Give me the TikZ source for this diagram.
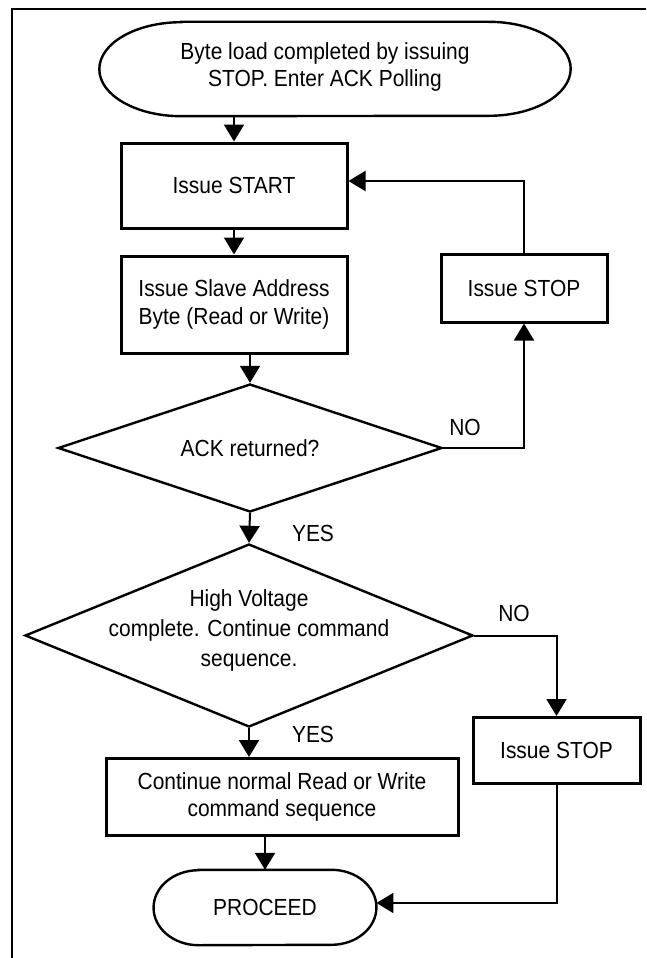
\documentclass[tikz,border=0pt]{standalone}
\usepackage{fontspec}
\setmainfont{Liberation Sans}[FakeStretch=0.9]
\usetikzlibrary{arrows.meta,shapes.geometric,calc}
\begin{document}
\begin{tikzpicture}[x=1pt,y=-1pt,
  txt/.style={font=\fontsize{23.3}{27.5}\selectfont, align=center, inner sep=0pt},
  boxnode/.style={draw, line width=3pt, rectangle, inner sep=0pt},
  termnode/.style={draw=none, rectangle, inner sep=0pt},
  dianode/.style={draw, line width=2.4pt, diamond, inner sep=0pt},
  termline/.style={line width=2.4pt},
  conn/.style={line width=2pt},
  arr/.style={conn, -{Triangle[length=17pt,width=20pt]}},
  lbl/.style={font=\fontsize{23.3}{27.5}\selectfont, inner sep=0pt},
  frameline/.style={line width=2pt}]

\useasboundingbox[fill=white] (0,0) rectangle (646,958);

% frame
\draw[frameline] (11.5,958) -- (11.5,9.5) -- (646,9.5);

% top terminal
\node[termnode, minimum width=471pt, minimum height=94pt] (top) at (335,69) {};
\draw[termline] ([xshift=82pt]top.north west) -- ([xshift=-82pt]top.north east)
  arc[start angle=90, end angle=-90, x radius=82pt, y radius=47pt]
  -- ([xshift=82pt]top.south west)
  arc[start angle=270, end angle=90, x radius=82pt, y radius=47pt] -- cycle;
\node[txt] (toptxt) at (325,67) {Byte load completed by issuing\\STOP. Enter ACK Polling};

% boxes
\node[boxnode, txt, minimum width=226pt, minimum height=85pt] (start) at (234,185.5) {Issue START};
\node[boxnode, txt, minimum width=226pt, minimum height=97pt] (slave) at (234,304.5) {Issue Slave Address\\Byte (Read or Write)};
\node[boxnode, txt, minimum width=166pt, minimum height=68pt] (stopA) at (524,288) {Issue STOP};

% ACK diamond
\node[dianode, minimum width=384pt, minimum height=128pt] (ack) at (250,448) {};
\node[txt] (acktxt) at (250,448) {ACK returned?};

% HV diamond
\node[dianode, minimum width=448pt, minimum height=183pt] (hv) at (249,635.5) {};
\node[txt, font=\fontsize{23.3}{30}\selectfont] (hvtxt) at (249,630) {High Voltage\\complete. Continue command\\sequence.};

\node[boxnode, txt, minimum width=167pt, minimum height=66pt] (stopB) at (556.5,750.5) {Issue STOP};
\node[boxnode, txt, minimum width=352pt, minimum height=77pt] (cont) at (282,797) {Continue normal Read or Write\\command sequence};

% PROCEED terminal
\node[termnode, txt, minimum width=222.5pt, minimum height=75pt] (proc) at (265,907.5) {PROCEED};
\draw[termline] ([xshift=45pt]proc.north west) -- ([xshift=-45pt]proc.north east)
  arc[start angle=90, end angle=-90, x radius=45pt, y radius=37.5pt]
  -- ([xshift=45pt]proc.south west)
  arc[start angle=270, end angle=90, x radius=45pt, y radius=37.5pt] -- cycle;

% labels
\node[lbl] (no1) at (465,427) {NO};
\node[lbl] (yes1) at (313,533) {YES};
\node[lbl] (no2) at (514,613) {NO};
\node[lbl] (yes2) at (313,734) {YES};

% connectors
\draw[arr] (start.north |- top.south) -- (start.north);
\draw[arr] (start.south) -- (slave.north);
\draw[arr] (ack.north |- slave.south) -- (ack.north);
\draw[arr] (ack.east) -| (stopA.south);
\draw[arr] (stopA.north) |- ([yshift=4.5pt]start.east);
\draw[arr] (ack.south) -- (hv.north);
\draw[arr] (hv.east) -| (stopB.north);
\draw[arr] (hv.south) -- (hv.south |- cont.north);
\draw[arr] (proc.north |- cont.south) -- (proc.north);
\draw[arr] (stopB.south) |- ([yshift=4.5pt]proc.east);
\end{tikzpicture}
\end{document}
